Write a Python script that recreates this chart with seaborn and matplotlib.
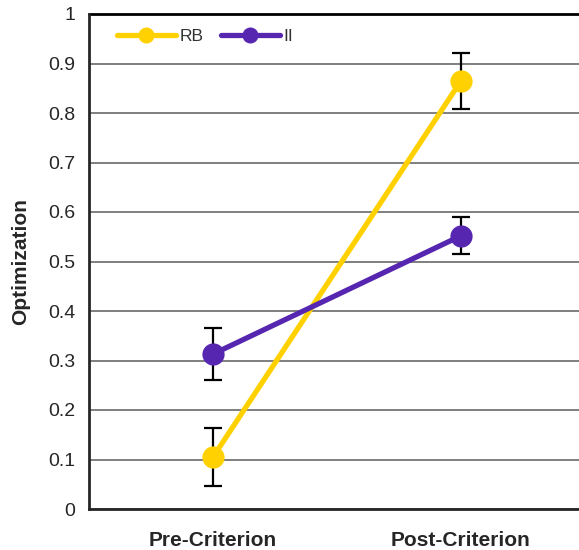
import matplotlib
matplotlib.use("Agg")
import matplotlib.pyplot as plt
import seaborn as sns
import pandas as pd

fases = ["Pre-Criterion", "Post-Criterion"]
rb_vals = [0.105, 0.865]
rb_err = [0.058, 0.056]
ii_vals = [0.313, 0.552]
ii_err = [0.052, 0.037]

AMARILLO = "#FFD100"
MORADO = "#5626B0"

sns.set_style("white")
plt.rcParams["font.family"] = ["Liberation Sans", "DejaVu Sans"]

df = pd.DataFrame({
    "fase": list(range(len(fases))) * 2,
    "valor": rb_vals + ii_vals,
    "grupo": ["RB"] * len(fases) + ["II"] * len(fases),
})

fig = plt.figure(figsize=(5.79, 5.5), dpi=100)
ax = fig.add_axes([89 / 579, 41 / 550, 496 / 579, 495 / 550])

for y in [k / 10 for k in range(11)]:
    ax.axhline(y, color="#7f7f7f", lw=1.4, zorder=0)

ax.errorbar(range(len(fases)), rb_vals, yerr=rb_err, fmt="none",
            ecolor="black", elinewidth=1.6, capsize=6.5, capthick=1.6, zorder=2)
ax.errorbar(range(len(fases)), ii_vals, yerr=ii_err, fmt="none",
            ecolor="black", elinewidth=1.6, capsize=6.5, capthick=1.6, zorder=2)

sns.lineplot(
    data=df, x="fase", y="valor", hue="grupo",
    palette={"RB": AMARILLO, "II": MORADO},
    marker="o", markersize=16, markeredgewidth=0,
    linewidth=3.8, ax=ax, zorder=3
)

ax.set_xlim(-0.5, 1.5)
ax.set_ylim(0, 1)
ax.set_xticks(range(len(fases)))
ax.set_xticklabels(fases, fontsize=15, fontweight="bold")
ax.set_yticks([k / 10 for k in range(11)])
ax.set_yticklabels(["0"] + [f"{k / 10:.1f}" for k in range(1, 10)] + ["1"], fontsize=14)
ax.tick_params(axis="y", length=4, width=1.2, color="black", pad=6)
ax.tick_params(axis="x", length=0, pad=15.5)

ax.set_xlabel("")
ax.set_ylabel("Optimization", fontsize=15, fontweight="bold", labelpad=13)

for lado in ["top", "right"]:
    ax.spines[lado].set_visible(False)
ax.spines["left"].set_linewidth(2)
ax.spines["bottom"].set_linewidth(2)
ax.axhline(1, color="black", lw=2, zorder=1, clip_on=False)

ax.legend(loc="center left", bbox_to_anchor=(0.056, 0.954), ncol=2, frameon=False,
          fontsize=12.5, handlelength=3.4, handletextpad=0.2, columnspacing=1.0,
          borderpad=0, borderaxespad=0, markerscale=0.72,
          labelcolor="#333333")

plt.savefig("out.png", dpi=100)
